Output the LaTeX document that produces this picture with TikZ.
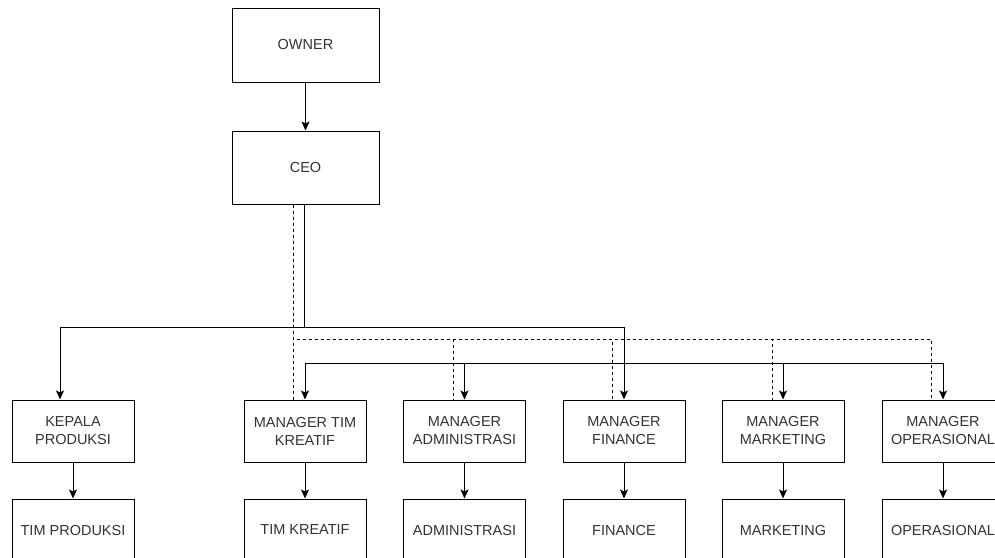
\documentclass[tikz,border=0pt]{standalone}
\usepackage{fontspec}
\setmainfont{Liberation Sans}
\usetikzlibrary{arrows.meta}
\definecolor{txt}{HTML}{333333}
\begin{document}
\begin{tikzpicture}[x=1pt,y=-1pt,
 box/.style={draw=black, line width=1pt, fill=white, text=txt, font=\fontsize{14.5}{18}\selectfont, align=center, inner sep=0pt, minimum width=122pt},
 topbox/.style={box, minimum width=147pt, minimum height=74pt},
 midbox/.style={box, minimum height=62pt},
 solidline/.style={draw=black, line width=1pt, -{Stealth[length=9pt,width=8pt,inset=2pt]}},
 dashline/.style={draw=black, line width=1pt, dash pattern=on 3pt off 3pt},
]
\useasboundingbox (0,0) rectangle (995,557);
\clip (0,0) rectangle (995,557);
\coordinate (yA) at (0,327);
\coordinate (yB) at (0,339);
\coordinate (yC) at (0,363);
% top
\node[topbox] (owner) at (305.5,45) {OWNER};
\node[topbox, minimum height=73pt] (ceo) at (305.5,167.5) {CEO};
% managers
\node[midbox] (kp) at (73,431) {KEPALA\\PRODUKSI};
\node[midbox] (mtk) at (305,431) {MANAGER TIM\\KREATIF};
\node[midbox] (madm) at (464.5,431) {MANAGER\\ADMINISTRASI};
\node[midbox] (mfin) at (624,431) {MANAGER\\FINANCE};
\node[midbox] (mmkt) at (783,431) {MANAGER\\MARKETING};
\node[midbox] (mop) at (943,431) {MANAGER\\OPERASIONAL};
% teams
\node[midbox] (tp) at (73,530) {TIM PRODUKSI};
\node[midbox] (tk) at (305,530) {TIM KREATIF};
\node[midbox] (adm) at (464.5,530) {ADMINISTRASI};
\node[midbox] (fin) at (624,530) {FINANCE};
\node[midbox] (mkt) at (783,530) {MARKETING};
\node[midbox] (op) at (943,530) {OPERASIONAL};
% owner -> ceo
\draw[solidline] (owner.south) -- (ceo.north);
% solid from ceo
\draw[solidline] ([xshift=-1.5pt]ceo.south) |- ([xshift=-13pt]kp.north |- yA) -- ([xshift=-13pt]kp.north);
\draw[solidline] ([xshift=-1.5pt]ceo.south) |- (mfin.north |- yA) -- (mfin.north);
\draw[solidline] ([xshift=-1.5pt]ceo.south) |- (mfin.north |- yA) -- (mfin.north |- yC) -| (mtk.north);
\draw[solidline] ([xshift=-1.5pt]ceo.south) |- (mfin.north |- yA) -- (mfin.north |- yC) -| (madm.north);
\draw[solidline] ([xshift=-1.5pt]ceo.south) |- (mfin.north |- yA) -- (mfin.north |- yC) -| (mmkt.north);
\draw[solidline] ([xshift=-1.5pt]ceo.south) |- (mfin.north |- yA) -- (mfin.north |- yC) -| (mop.north);
% dashed from ceo
\draw[dashline] ([xshift=-12.5pt]ceo.south) -- ([xshift=-12pt]mtk.north);
\draw[dashline] ([xshift=-12.5pt]ceo.south) |- ([xshift=-11.5pt]madm.north |- yB) -- ([xshift=-11.5pt]madm.north);
\draw[dashline] ([xshift=-12.5pt]ceo.south) |- ([xshift=-12pt]mfin.north |- yB) -- ([xshift=-12pt]mfin.north);
\draw[dashline] ([xshift=-12.5pt]ceo.south) |- ([xshift=-11pt]mmkt.north |- yB) -- ([xshift=-11pt]mmkt.north);
\draw[dashline] ([xshift=-12.5pt]ceo.south) |- ([xshift=-12pt]mop.north |- yB) -- ([xshift=-12pt]mop.north);
% managers -> teams
\draw[solidline] (kp.south) -- (tp.north);
\draw[solidline] (mtk.south) -- (tk.north);
\draw[solidline] (madm.south) -- (adm.north);
\draw[solidline] (mfin.south) -- (fin.north);
\draw[solidline] (mmkt.south) -- (mkt.north);
\draw[solidline] (mop.south) -- (op.north);
\end{tikzpicture}
\end{document}
